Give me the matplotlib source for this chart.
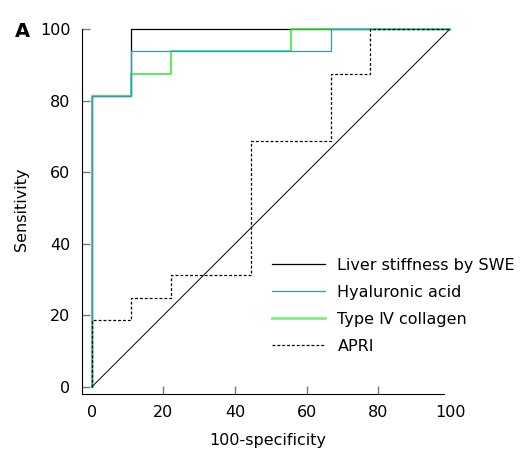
import matplotlib
matplotlib.use("Agg")
import matplotlib.pyplot as plt
from matplotlib.lines import Line2D

# ROC curve points (100-specificity, sensitivity)
swe_x = [0, 0, 11.1, 11.1, 100]
swe_y = [0, 81.25, 81.25, 100, 100]

ha_x = [0, 0, 11.1, 11.1, 66.7, 66.7, 100]
ha_y = [0, 81.25, 81.25, 93.75, 93.75, 100, 100]

col_x = [0, 0, 11.1, 11.1, 22.2, 22.2, 55.6, 55.6, 100]
col_y = [0, 81.25, 81.25, 87.5, 87.5, 93.75, 93.75, 100, 100]

apri_x = [0, 0, 11.1, 11.1, 22.2, 22.2, 44.4, 44.4, 66.7, 66.7, 77.8, 77.8, 100]
apri_y = [0, 18.75, 18.75, 25, 25, 31.25, 31.25, 68.75, 68.75, 87.5, 87.5, 100, 100]

ref_x = [0, 100]
ref_y = [0, 100]

labels = ["Liver stiffness by SWE", "Hyaluronic acid", "Type \u2163 collagen", "APRI"]
xticks = [0, 20, 40, 60, 80, 100]
yticks = [0, 20, 40, 60, 80, 100]

plt.rcParams['font.family'] = ['DejaVu Sans']

W, H = 522, 450
fig = plt.figure(figsize=(W / 100, H / 100), dpi=100)

# pixel layout
sx = 3.583  # px per unit x
sy = 3.58   # px per unit y
x0px, y0px = 91.7, 387.0
xl, xr = -2.8, 101.0
yb, yt = -1.95, 101.0
left_px = x0px + xl * sx
right_px = x0px + xr * sx
bottom_px = y0px - yb * sy
top_px = y0px - yt * sy
ax = fig.add_axes([left_px / W, 1 - bottom_px / H, (right_px - left_px) / W, (bottom_px - top_px) / H])
ax.set_xlim(xl, xr)
ax.set_ylim(yb, yt)

blue = '#2b95d8'
green = '#2ee82e'

ax.plot(ref_x, ref_y, color='black', lw=0.7)
ax.plot(swe_x, swe_y, color='black', lw=0.9)
ax.plot(col_x, col_y, color=green, lw=1.1)
ax.plot(ha_x, ha_y, color=blue, lw=0.9)
ax.plot(apri_x, apri_y, color='black', lw=0.9, linestyle=(0, (2.3, 1.6)))

for s in ['top', 'right']:
    ax.spines[s].set_visible(False)
ax.spines['left'].set_bounds(yb, 100)
ax.spines['bottom'].set_bounds(xl, 98.3)
for s in ['left', 'bottom']:
    ax.spines[s].set_linewidth(0.8)

ax.set_xticks(xticks)
ax.set_yticks(yticks)
ax.tick_params(direction='in', length=6, width=1.0, color='#777777', pad=8, labelsize=11.5)
xt = ax.xaxis.get_major_ticks()
xt[0].tick1line.set_visible(False)
xt[-1].tick1line.set_visible(False)

ax.set_xlabel("100-specificity", fontsize=11.5, labelpad=9)
ax.set_ylabel("Sensitivity", fontsize=11.5, labelpad=8)

handles = [
    Line2D([], [], color='black', lw=0.9),
    Line2D([], [], color=blue, lw=0.9),
    Line2D([], [], color='#80f080', lw=2.0),
    Line2D([], [], color='black', lw=0.9, linestyle=(0, (2.3, 1.6))),
]
ax.legend(handles, labels, loc='upper left',
          bbox_to_anchor=((272 - left_px) / (right_px - left_px), 1 - (258 - top_px) / (bottom_px - top_px)),
          frameon=False, fontsize=11.5, handlelength=3.3, handletextpad=0.8, labelspacing=0.75,
          borderaxespad=0, borderpad=0)

fig.text(22 / W, 1 - 31.5 / H, "A", fontsize=14, fontweight='bold', ha='center', va='center')

fig.savefig("out.png", dpi=100)
